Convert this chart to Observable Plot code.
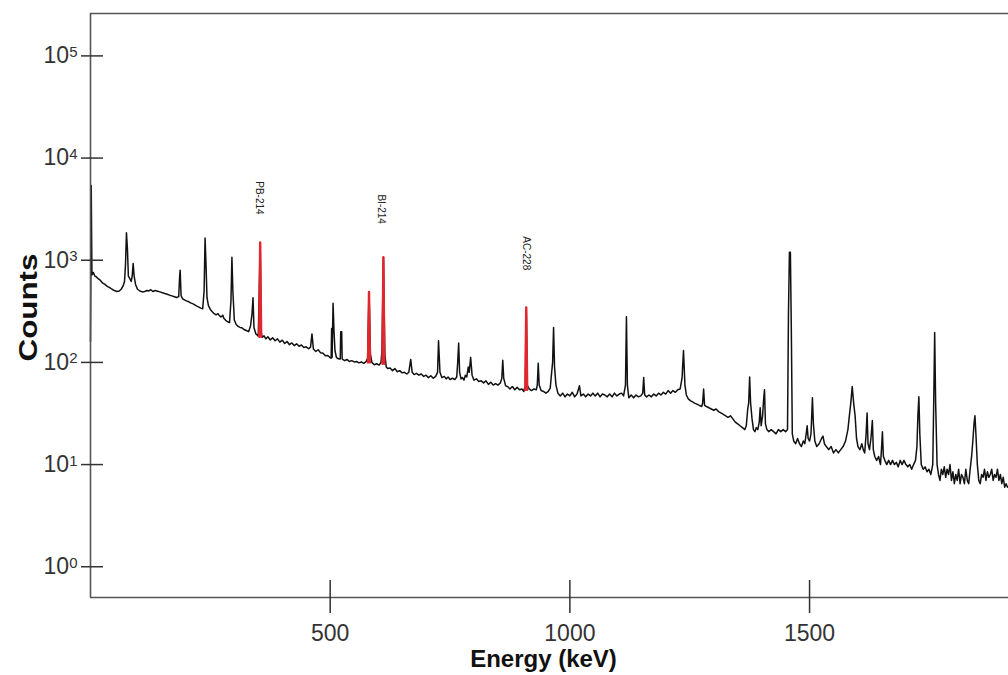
<!DOCTYPE html>
<html><head><meta charset="utf-8">
<script src="https://cdn.jsdelivr.net/npm/d3@7"></script>
<script src="https://cdn.jsdelivr.net/npm/@observablehq/plot@0.6"></script>
<style>
body{margin:0;background:#fff;}
#chart svg{font-family:Arial,"Liberation Sans",sans-serif;}
</style>
</head><body><div id="chart"></div>
<script>
// Gamma spectrum: [energy keV, counts]
const spectrum = [
[0,160],[1.5,5400],[3,720],[6,760],[9,700],[12,690],[16,660],[20,640],[25,600],[30,580],[35,555],[40,540],[45,520],[50,505],[55,495],[60,500],[64,520],[68,560],[71,620],[73,900],[75,1860],[77,1300],[79,700],[82,660],[85,620],[87,700],[89,930],[91,700],[94,580],[98,520],[103,500],[108,490],[113,495],[118,505],[122,500],[126,515],[130,495],[135,505],[140,498],[145,490],[150,480],[155,472],[160,465],[165,455],[170,448],[175,440],[180,432],[184,440],[186,700],[187,800],[189,450],[192,420],[196,410],[200,400],[205,392],[210,380],[215,372],[220,360],[225,350],[230,340],[234,335],[237,500],[239,1650],[241,900],[243,430],[246,360],[250,330],[255,310],[258,300],[262,292],[266,300],[268,290],[272,278],[276,290],[278,270],[282,258],[286,250],[290,245],[293,400],[295,1070],[297,500],[300,260],[304,235],[308,225],[312,220],[316,218],[320,210],[325,205],[330,200],[334,230],[337,300],[339,430],[341,220],[345,190],[348,185],[350,180],[352,500],[354,1490],[356,200],[358,176],[362,182],[366,170],[370,178],[375,166],[380,174],[385,163],[390,170],[395,158],[400,165],[405,153],[410,160],[415,149],[420,155],[425,146],[430,152],[435,144],[440,148],[445,140],[450,142],[455,136],[459,141],[462,190],[465,135],[470,128],[475,133],[480,124],[485,123],[490,116],[495,117],[500,111],[502,110],[503,215],[504,112],[506,380],[508,200],[510,130],[513,112],[516,109],[519,108],[521,108],[522,200],[524,200],[525,108],[530,104],[535,107],[540,102],[545,104],[550,101],[555,102],[560,99],[565,101],[570,98],[575,102],[578,110],[581,490],[584,120],[587,100],[592,95],[597,97],[602,94],[606,100],[608,130],[611,1070],[614,120],[617,90],[620,87],[625,88],[630,83],[635,87],[640,81],[645,83],[650,79],[655,80],[660,77],[664,80],[668,107],[671,80],[675,76],[680,78],[685,75],[690,77],[695,73],[700,75],[705,71],[710,74],[715,70],[720,73],[724,80],[726,163],[729,80],[733,71],[738,73],[742,69],[746,72],[750,68],[755,70],[760,68],[764,72],[766,100],[768,155],[770,80],[773,69],[776,71],[779,67],[782,75],[785,72],[788,90],[790,80],[793,112],[796,75],[800,67],[805,69],[810,65],[815,66],[820,63],[825,66],[830,61],[835,64],[840,60],[845,62],[850,60],[855,63],[858,70],[860,105],[862,70],[866,59],[870,58],[875,55],[880,58],[885,54],[890,57],[895,54],[900,55],[904,52],[907,60],[909,345],[911,60],[915,55],[920,53],[925,55],[930,54],[932,60],[934,98],[936,60],[940,53],[945,52],[950,50],[955,52],[959,56],[962,80],[964,100],[966,220],[968,90],[971,60],[975,50],[980,47],[985,50],[990,46],[995,49],[1000,47],[1005,51],[1010,46],[1015,49],[1020,59],[1023,47],[1028,49],[1033,46],[1038,49],[1043,47],[1048,50],[1053,47],[1058,50],[1063,46],[1068,49],[1073,48],[1078,46],[1083,49],[1088,46],[1093,50],[1098,47],[1103,49],[1108,50],[1112,47],[1116,60],[1118,280],[1120,60],[1123,45],[1128,48],[1133,45],[1138,48],[1143,46],[1148,47],[1152,50],[1154,71],[1156,48],[1160,46],[1165,48],[1170,46],[1175,49],[1180,47],[1185,50],[1190,48],[1195,51],[1200,49],[1205,53],[1210,50],[1215,53],[1220,51],[1225,54],[1230,55],[1234,70],[1237,131],[1240,60],[1243,48],[1247,44],[1252,42],[1256,41],[1260,40],[1265,39],[1270,38],[1275,37],[1277,40],[1279,55],[1281,38],[1285,37],[1290,36],[1295,35],[1300,34],[1305,35],[1310,33],[1315,32],[1320,31],[1325,30],[1330,29],[1335,30],[1340,28],[1345,26],[1350,25],[1355,24],[1360,23],[1365,22],[1368,24],[1371,35],[1373,40],[1375,72],[1377,40],[1380,28],[1383,22],[1386,21],[1389,23],[1392,22],[1395,26],[1397,36],[1399,24],[1402,30],[1404,42],[1406,54],[1408,25],[1411,22],[1415,21],[1420,22],[1425,21],[1430,20],[1435,22],[1440,21],[1445,22],[1450,21],[1454,22],[1456,300],[1458,1200],[1460,1200],[1462,200],[1464,20],[1467,17],[1471,16],[1475,18],[1479,16],[1483,15],[1487,17],[1490,16],[1493,20],[1495,24],[1497,18],[1500,17],[1503,20],[1506,45],[1508,25],[1511,17],[1515,15],[1520,16],[1525,18],[1528,19],[1531,16],[1535,15],[1540,14],[1545,15],[1550,13],[1555,14],[1560,13],[1565,14],[1570,15],[1575,17],[1580,22],[1583,30],[1586,40],[1589,58],[1592,40],[1595,30],[1598,18],[1601,15],[1605,14],[1609,16],[1612,14],[1615,13],[1618,20],[1620,32],[1622,16],[1625,14],[1628,18],[1631,27],[1633,14],[1636,12],[1640,11],[1644,12],[1648,10],[1650,14],[1652,21],[1654,12],[1657,11],[1661,10],[1665,11],[1669,10],[1673,11],[1677,10],[1681,10.5],[1685,9.5],[1689,11],[1693,10],[1697,11],[1701,10],[1705,9.5],[1709,10],[1713,9],[1717,10],[1721,11],[1724,15],[1726,30],[1728,46],[1730,20],[1733,10],[1737,9],[1741,9.5],[1745,8.5],[1749,9],[1753,8],[1757,10],[1759,40],[1761,196],[1763,40],[1766,10],[1769,8],[1772,7],[1775,9],[1778,8],[1781,9.5],[1784,7.5],[1787,9],[1790,8],[1793,10],[1796,7],[1799,8.5],[1802,6.5],[1805,8],[1808,7],[1811,9],[1814,6.5],[1817,8],[1820,7.5],[1823,6.5],[1826,9],[1829,7],[1832,6.5],[1835,9],[1838,12],[1841,18],[1843,25],[1845,30],[1847,20],[1850,10],[1853,7],[1856,6.5],[1859,8],[1862,7.5],[1865,9],[1868,7],[1871,8.5],[1874,7.5],[1877,8],[1880,9],[1883,7],[1886,8],[1889,7.5],[1892,9],[1895,7],[1898,8],[1901,6.5],[1904,7.5],[1907,6],[1910,6.5],[1913,6],[1915,6]
];

// Highlighted (red) peaks
const peakEnergy = [354, 581, 611, 909];
const peakBase   = [178, 100, 97, 54];
const peakTop    = [1490, 490, 1070, 345];

// Isotope labels
const isotopes      = ["PB-214", "BI-214", "AC-228"];
const isotopeEnergy = [352, 606, 909];
const isotopeCounts = [4070, 3160, 1170];

const yTicks = [1, 10, 100, 1000, 10000, 100000];
const xTicks = [500, 1000, 1500];
const xDomain = [0, 1915];
const yDomain = [0.5, 2.6e5];

const W = 1008, H = 675, mL = 90, mR = 0, mT = 13, mB = 78;
const plotW = W - mL - mR, plotH = H - mT - mB;

const redLines = peakEnergy.flatMap((e, i) => [
  {e: e - 2, c: peakBase[i], z: i},
  {e: e, c: peakTop[i], z: i},
  {e: e + 2, c: peakBase[i], z: i}
]);
const labels = isotopes.map((t, i) => ({t, e: isotopeEnergy[i], c: isotopeCounts[i]}));

const frameColor = "#555";

const plot = Plot.plot({
  width: W, height: H,
  marginLeft: mL, marginRight: mR, marginTop: mT, marginBottom: mB,
  style: {fontFamily: "Arial, 'Liberation Sans', sans-serif", background: "white", color: "#222"},
  x: {domain: xDomain},
  y: {type: "log", domain: yDomain},
  marks: [
    Plot.line(spectrum, {x: d => d[0], y: d => d[1], stroke: "#111", strokeWidth: 1.5}),
    Plot.line(redLines, {x: "e", y: "c", z: "z", stroke: "#e3262e", strokeWidth: 2.4}),
    Plot.text(labels, {x: "e", y: "c", text: "t", rotate: 90, fontSize: 10, fill: "#222"}),
    Plot.ruleX([xDomain[0]], {stroke: frameColor, strokeWidth: 1.6}),
    Plot.ruleY([yDomain[0], yDomain[1]], {stroke: frameColor, strokeWidth: 1.6}),
    Plot.ruleY(yTicks, {insetLeft: -9, insetRight: plotW - 13, stroke: "#333", strokeWidth: 1.5}),
    Plot.ruleX(xTicks, {insetTop: plotH - 17, insetBottom: -16, stroke: "#333", strokeWidth: 1.5}),
    Plot.axisY({ticks: yTicks, tickSize: 0, tickPadding: 13, fontSize: 23, fill: "#333",
      tickFormat: d => "10^" + Math.round(Math.log10(d)), label: null}),
    Plot.axisX({ticks: xTicks, tickSize: 0, tickPadding: 27, fontSize: 23, fill: "#333",
      tickFormat: d => String(d), label: null}),
    Plot.text(["Energy (keV)"], {frameAnchor: "bottom", textAnchor: "middle", lineAnchor: "middle",
      dx: -6, dy: 62, fontSize: 24, fontWeight: "bold", fill: "#111"}),
    Plot.text(["Counts"], {frameAnchor: "left", textAnchor: "middle", lineAnchor: "middle",
      dx: -62, dy: 2, rotate: -90, fontSize: 26, fontWeight: "bold", fill: "#111"})
  ]
});

// superscript exponents on y tick labels
const ns = "http://www.w3.org/2000/svg";
plot.querySelectorAll('g[aria-label="y-axis tick label"] text').forEach(t => {
  const parts = t.textContent.split("^");
  if (parts.length !== 2) return;
  t.textContent = "";
  const a = document.createElementNS(ns, "tspan");
  a.textContent = parts[0];
  const b = document.createElementNS(ns, "tspan");
  b.textContent = parts[1];
  b.setAttribute("dy", "-0.42em");
  b.setAttribute("font-size", "15");
  t.appendChild(a); t.appendChild(b);
});
// the reference's "Counts" title is drawn elongated
plot.querySelectorAll("text").forEach(t => {
  if (t.textContent === "Counts") {
    t.setAttribute("textLength", "108");
    t.setAttribute("lengthAdjust", "spacingAndGlyphs");
  }
});

document.getElementById("chart").appendChild(plot);
</script>
</body></html>
